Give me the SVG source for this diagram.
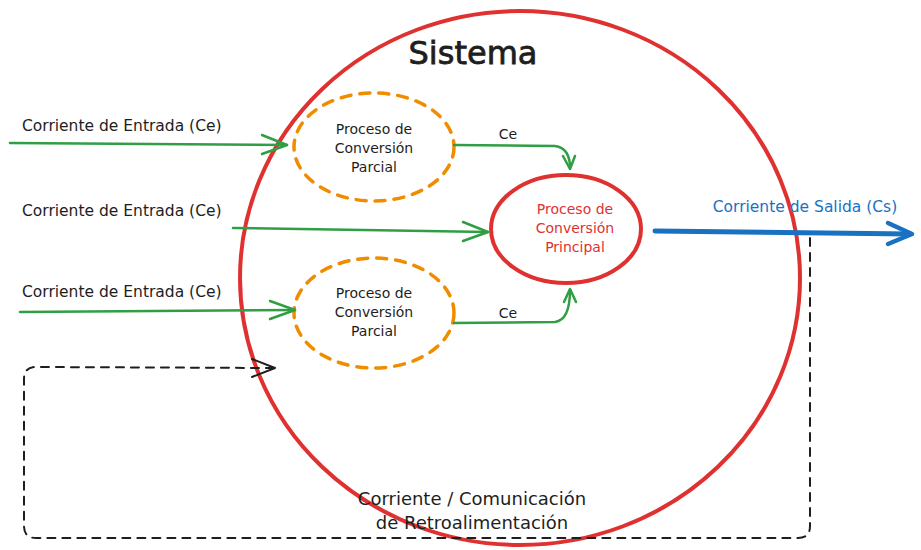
<svg xmlns="http://www.w3.org/2000/svg" width="921" height="550" viewBox="0 0 921 550">
<defs>
<style>
text{font-family:"DejaVu Sans","Liberation Sans",Arial,sans-serif;fill:#1e1e1e}
.lbl{font-size:15.5px}
.nd{font-size:14px;text-anchor:middle}
.in{fill:none;stroke:#2f9e44;stroke-width:2.5;stroke-linecap:round}
.fb{fill:none;stroke:#1e1e1e;stroke-width:2;stroke-dasharray:8 7;stroke-linecap:round}
.head{fill:none;stroke-linecap:round;stroke-linejoin:round}
</style>
</defs>
<rect width="921" height="550" fill="#ffffff"/>
<g id="sistema">
<ellipse cx="520" cy="278" rx="280" ry="267" fill="none" stroke="#e03131" stroke-width="4"/>
<text x="473" y="64" font-size="32" text-anchor="middle" stroke="#1e1e1e" stroke-width="0.8">Sistema</text>
</g>
<g id="parcial1">
<ellipse cx="374" cy="147" rx="80" ry="54" fill="none" stroke="#f08c00" stroke-width="3.5" stroke-dasharray="10 9" stroke-linecap="round"/>
<text class="nd" x="374" y="134">Proceso de</text>
<text class="nd" x="374" y="153">Conversión</text>
<text class="nd" x="374" y="172">Parcial</text>
</g>
<g id="parcial2">
<ellipse cx="374" cy="313" rx="80" ry="55" fill="none" stroke="#f08c00" stroke-width="3.5" stroke-dasharray="10 9" stroke-linecap="round"/>
<text class="nd" x="374" y="298">Proceso de</text>
<text class="nd" x="374" y="317">Conversión</text>
<text class="nd" x="374" y="336">Parcial</text>
</g>
<g id="principal">
<ellipse cx="566" cy="229" rx="75" ry="54" fill="none" stroke="#e03131" stroke-width="4"/>
<text class="nd" x="575" y="214" style="fill:#e03131">Proceso de</text>
<text class="nd" x="575" y="233" style="fill:#e03131">Conversión</text>
<text class="nd" x="575" y="252" style="fill:#e03131">Principal</text>
</g>
<g id="connectors">
<path class="in" d="M10 143 L287 145"/>
<path class="in head" d="M262 135 L287 145 L262 154"/>
<text class="lbl" x="22" y="131">Corriente de Entrada (Ce)</text>
<path class="in" d="M233 228 L488 232"/>
<path class="in head" d="M463 222 L488 232 L463 241"/>
<text class="lbl" x="22" y="216">Corriente de Entrada (Ce)</text>
<path class="in" d="M20 312 L295 310"/>
<path class="in head" d="M270 301 L295 310 L270 319"/>
<text class="lbl" x="22" y="297">Corriente de Entrada (Ce)</text>
<path class="in" d="M454 145 L555 146 Q570 148 570 168"/>
<path class="in head" d="M563 156 L570 169 L575 156"/>
<text x="508" y="139" font-size="14" text-anchor="middle">Ce</text>
<path class="in" d="M454 323 L555 322 Q570 320 570 290"/>
<path class="in head" d="M564 302 L570 289 L576 302"/>
<text x="508" y="318" font-size="14" text-anchor="middle">Ce</text>
<path d="M655 231 L910 234" fill="none" stroke="#1971c2" stroke-width="5" stroke-linecap="round"/>
<path class="head" d="M888 223 L912 234 L888 244" stroke="#1971c2" stroke-width="4.5"/>
<text x="805" y="212" font-size="15.5" text-anchor="middle" style="fill:#1971c2">Corriente de Salida (Cs)</text>
<path class="fb" d="M810 238 L810 526 Q810 538 798 538 L36 538 Q24 538 24 526 L24 379 Q24 367 36 367 L273 368"/>
<path class="head" d="M252 359 L275 368 L252 377" stroke="#1e1e1e" stroke-width="2"/>
<text x="472" y="505" font-size="18" text-anchor="middle">Corriente / Comunicación</text>
<text x="472" y="529" font-size="18" text-anchor="middle">de Retroalimentación</text>
</g>
</svg>
